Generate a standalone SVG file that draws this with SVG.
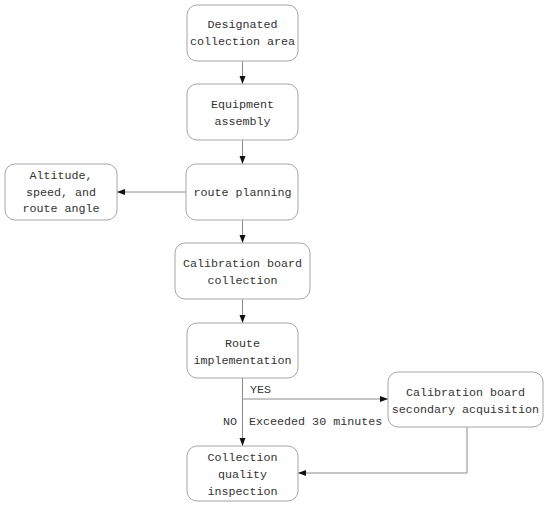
<svg xmlns="http://www.w3.org/2000/svg" width="550" height="507" viewBox="0 0 550 507">
<style>
.box{fill:#fff;stroke:#a6a6a6;stroke-width:1}
.t{font-family:"Liberation Mono","DejaVu Sans Mono",monospace;font-size:11.7px;fill:#333;text-anchor:middle}
.l{font-family:"Liberation Mono","DejaVu Sans Mono",monospace;font-size:11.7px;fill:#333}
.c{fill:none;stroke:#8c8c8c;stroke-width:1}
</style>
<defs>
<marker id="a" viewBox="0 0 8 8" refX="8" refY="4" markerWidth="8" markerHeight="8" markerUnits="userSpaceOnUse" orient="auto">
<path d="M0,1 L8,4 L0,7 Z" fill="#111"/>
</marker>
</defs>
<rect width="550" height="507" fill="#fff"/>
<g id="connectors">
<line class="c" x1="242.5" y1="61" x2="242.5" y2="84" marker-end="url(#a)"/>
<line class="c" x1="242.5" y1="140" x2="242.5" y2="164" marker-end="url(#a)"/>
<line class="c" x1="186" y1="192" x2="117" y2="192" marker-end="url(#a)"/>
<line class="c" x1="242.5" y1="220" x2="242.5" y2="243" marker-end="url(#a)"/>
<line class="c" x1="242.5" y1="299" x2="242.5" y2="323" marker-end="url(#a)"/>
<line class="c" x1="242.5" y1="378" x2="242.5" y2="446" marker-end="url(#a)"/>
<polyline class="c" points="242.5,399 388,399" marker-end="url(#a)"/>
<polyline class="c" points="467,427 467,473 298,473" marker-end="url(#a)"/>
<text class="l" x="250" y="393">YES</text>
<text class="l" x="223" y="425">NO</text>
<text class="l" x="249" y="425">Exceeded 30 minutes</text>
</g>
<g id="n1"><rect class="box" x="187" y="5" width="111" height="56" rx="10"/>
<text class="t" x="242.5" y="28">Designated</text><text class="t" x="242.5" y="45">collection area</text></g>
<g id="n2"><rect class="box" x="187" y="84" width="111" height="56" rx="10"/>
<text class="t" x="242.5" y="108">Equipment</text><text class="t" x="242.5" y="125">assembly</text></g>
<g id="n3"><rect class="box" x="186" y="164" width="112" height="56" rx="10"/>
<text class="t" x="242.5" y="196">route planning</text></g>
<g id="n3b"><rect class="box" x="5" y="164" width="112" height="56" rx="10"/>
<text class="t" x="61" y="179">Altitude,</text><text class="t" x="61" y="196">speed, and</text><text class="t" x="61" y="212">route angle</text></g>
<g id="n4"><rect class="box" x="175" y="243" width="135" height="56" rx="10"/>
<text class="t" x="242.5" y="267">Calibration board</text><text class="t" x="242.5" y="284">collection</text></g>
<g id="n5"><rect class="box" x="187" y="323" width="111" height="55" rx="10"/>
<text class="t" x="242.5" y="347">Route</text><text class="t" x="242.5" y="364">implementation</text></g>
<g id="n6"><rect class="box" x="187" y="446" width="111" height="55" rx="10"/>
<text class="t" x="242.5" y="461">Collection</text><text class="t" x="242.5" y="478">quality</text><text class="t" x="242.5" y="495">inspection</text></g>
<g id="n7"><rect class="box" x="388" y="372" width="155" height="55" rx="10"/>
<text class="t" x="465.5" y="396">Calibration board</text><text class="t" x="465.5" y="413">secondary acquisition</text></g>
</svg>
